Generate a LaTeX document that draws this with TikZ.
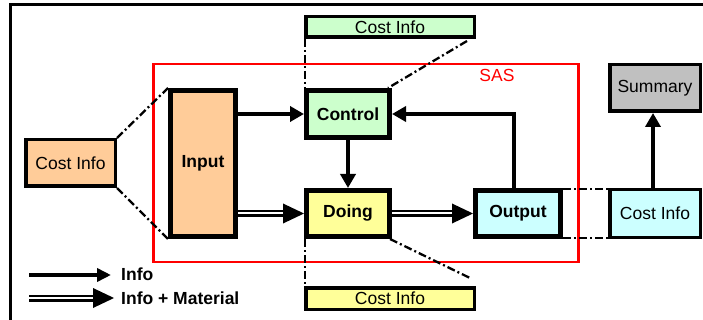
\documentclass[tikz,border=0pt]{standalone}
\usepackage{fontspec}
\setmainfont{Liberation Sans}
\usetikzlibrary{arrows.meta,calc}
\definecolor{cgreen}{HTML}{CCFFCC}
\definecolor{cyellow}{HTML}{FFFF99}
\definecolor{corange}{HTML}{FFCC99}
\definecolor{ccyan}{HTML}{CCFFFF}
\definecolor{cgrey}{HTML}{C0C0C0}
\newcommand\dblarr[2]{%
  \draw[dbl] (#1) -- ($(#2)+(-19,0)$);
  \fill (#2) -- ++(-21,-10) -- ++(0,20) -- cycle;}
\begin{document}
\begin{tikzpicture}[x=1pt,y=-1pt,
  font=\fontsize{17.5}{20}\selectfont,
  box/.style={draw, line width=3.5pt, rectangle, inner sep=0pt, align=center},
  mainbox/.style={box, line width=5pt, font=\fontsize{17.5}{20}\selectfont\bfseries},
  info/.style={-{Triangle[length=14pt,width=15pt]}, line width=4.5pt},
  leginfo/.style={-{Triangle[length=14pt,width=13pt]}, line width=3.5pt},
  dd/.style={line width=2.3pt, dash pattern=on 8pt off 3pt on 2pt off 3pt},
  dbl/.style={line width=2.5pt, double=white, double distance=2pt},
  legtxt/.style={anchor=west, inner sep=0pt, font=\fontsize{17.5}{20}\selectfont\bfseries}]
\useasboundingbox (0,0) rectangle (703,320);
% outer frame
\draw[line width=3pt] (10.5,330) -- (10.5,4.2) -- (715,4.2);
% SAS boundary
\draw[red, line width=2.8pt] (153.5,64) rectangle (578.3,262);
\node[text=red] (sas) at (497,75) {SAS};
% main boxes
\node[mainbox, fill=corange, minimum width=65pt, minimum height=146pt] (input) at (203,163.5) {Input};
\node[mainbox, fill=cgreen, minimum width=83pt, minimum height=47pt] (control) at (348,114) {Control};
\node[mainbox, fill=cyellow, minimum width=83pt, minimum height=46pt] (doing) at (348,213.5) {Doing};
\node[mainbox, fill=ccyan, minimum width=85pt, minimum height=46pt] (output) at (518,213.5) {Output};
% cost info boxes
\node[box, fill=corange, minimum width=89.5pt, minimum height=46.5pt] (costL) at (70.5,163) {Cost Info};
\node[box, fill=cgreen, minimum width=168.5pt, minimum height=20.5pt] (costT) at (390,27) {Cost Info};
\node[box, fill=cyellow, minimum width=168.5pt, minimum height=21.5pt] (costB) at (390,298.5) {Cost Info};
\node[box, fill=ccyan, minimum width=90.5pt, minimum height=47.5pt] (costR) at (655,213.5) {Cost Info};
\node[box, fill=cgrey, minimum width=90.5pt, minimum height=46.5pt] (summary) at (655,88) {Summary};
% info arrows
\draw[info] (input.east |- control.west) -- (control.west);
\draw[info] (control.south) -- (doing.north);
\draw[info] ([xshift=-4pt]output.north) |- (control.east);
\draw[info] ([xshift=-2pt]costR.north) -- ([xshift=-2pt]summary.south);
% material arrows
\dblarr{input.east |- doing.west}{doing.west}
\dblarr{doing.east}{output.west}
% dash-dot links
\draw[dd] (costL.north east) -- (input.north west);
\draw[dd] (costL.south east) -- (input.south west);
\draw[dd] ([xshift=1pt]costT.south west) -- ([xshift=1pt]control.north west);
\draw[dd] ([xshift=-9pt,yshift=-2pt]costT.south east) -- ([xshift=-4pt]control.north east);
\draw[dd] ([xshift=1pt]doing.south west) -- ([xshift=1pt]costB.north west);
\draw[dd] ([xshift=-2pt]doing.south east) -- ([xshift=-6pt,yshift=8pt]costB.north east);
\draw[dd] ([yshift=-1pt]output.north east) -- ([yshift=-1pt]costR.north west);
\draw[dd] ([yshift=1pt]output.south east) -- ([yshift=1pt]costR.south west);
% legend
\coordinate (l1a) at (29,275);
\coordinate (l1b) at (111,275);
\draw[leginfo] (l1a) -- (l1b);
\node[legtxt] (l1t) at (121,274) {Info};
\coordinate (l2a) at (29,298);
\coordinate (l2b) at (114,298);
\dblarr{l2a}{l2b}
\node[legtxt] (l2t) at (121,298) {Info + Material};
\end{tikzpicture}
\end{document}
